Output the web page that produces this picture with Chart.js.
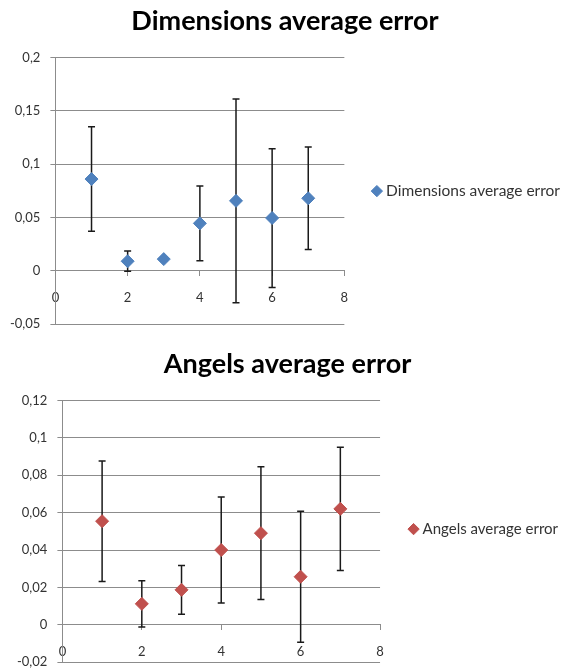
<!DOCTYPE html>
<html>
<head>
<meta charset="utf-8">
<script src="https://cdn.jsdelivr.net/npm/chart.js@4"></script>
<style>
    html, body { margin: 0; padding: 0; background: #fff; overflow: hidden; }
    .box { position: absolute; left: 0; width: 561px; }
    #box1 { top: 0; height: 342px; }
    #box2 { top: 338px; height: 342px; }
</style>
</head>
<body>
<div class="box" id="box1"><canvas id="dimChart"></canvas></div>
<div class="box" id="box2"><canvas id="angChart"></canvas></div>
<script>
// Data
const xValues = [1, 2, 3, 4, 5, 6, 7];
const dimValues = [0.086, 0.009, 0.011, 0.0445, 0.0656, 0.0495, 0.068];
const dimErrors = [0.049, 0.0095, 0.002, 0.035, 0.0955, 0.065, 0.048];
const angValues = [0.0554, 0.0112, 0.0187, 0.040, 0.049, 0.0257, 0.062];
const angErrors = [0.0322, 0.0124, 0.013, 0.0283, 0.0355, 0.035, 0.0329];

const fontFamily = 'Lato, "Open Sans", sans-serif';
const gridColor = '#8c8c8c';

// Draw vertical error bars with caps from the scales
const errorBars = {
    id: 'errorBars',
    beforeDatasetsDraw(chart, args, opts) {
        const ctx = chart.ctx;
        const xs = chart.scales.x, ys = chart.scales.y;
        const errs = opts.errors || [];
        ctx.save();
        ctx.strokeStyle = '#1a1a1a';
        ctx.lineWidth = 1.5;
        chart.data.datasets[0].data.forEach(function(p, i) {
            const px = xs.getPixelForValue(p.x);
            const top = ys.getPixelForValue(p.y + errs[i]);
            const bot = ys.getPixelForValue(p.y - errs[i]);
            ctx.beginPath();
            ctx.moveTo(px, top); ctx.lineTo(px, bot);
            ctx.moveTo(px - 3.5, top); ctx.lineTo(px + 3.5, top);
            ctx.moveTo(px - 3.5, bot); ctx.lineTo(px + 3.5, bot);
            ctx.stroke();
        });
        ctx.restore();
    }
};

function fmt(v) {
    return String(Number(v.toFixed(3))).replace('.', ',');
}

function makeChart(id, title, values, errors, color, yMin, yMax, yStep, pad, titlePad, legendPad, legendSize) {
    return new Chart(document.getElementById(id), {
        type: 'scatter',
        data: {
            datasets: [{
                label: title,
                data: xValues.map((x, i) => ({ x: x, y: values[i] })),
                backgroundColor: color,
                borderColor: color,
                pointStyle: 'rectRot',
                pointRadius: 6.5,
                pointHoverRadius: 6.5
            }]
        },
        options: {
            responsive: true,
            maintainAspectRatio: false,
            animation: false,
            layout: { padding: pad },
            scales: {
                x: {
                    type: 'linear',
                    position: { y: 0 },
                    min: 0,
                    max: 8,
                    ticks: {
                        stepSize: 2,
                        padding: 14,
                        color: '#333',
                        font: { family: fontFamily, size: 13 }
                    },
                    grid: { drawOnChartArea: false, drawTicks: true, tickLength: 5, color: gridColor },
                    border: { display: true, color: gridColor, width: 1 }
                },
                y: {
                    min: yMin,
                    max: yMax,
                    ticks: {
                        stepSize: yStep,
                        padding: 10,
                        color: '#333',
                        font: { family: fontFamily, size: 13 },
                        callback: function(v) { return fmt(v); }
                    },
                    grid: { color: gridColor, tickLength: 5 },
                    border: { display: true, color: gridColor, width: 1 }
                }
            },
            plugins: {
                title: {
                    display: true,
                    text: title,
                    color: '#000',
                    font: { family: fontFamily, size: 27, weight: 'bold' },
                    padding: titlePad
                },
                legend: {
                    position: 'right',
                    maxWidth: 260,
                    // empty title only to push the item down to the middle of the plot
                    title: { display: true, text: ' ', font: { size: 1 }, padding: { top: 18, bottom: 19 } },
                    labels: {
                        usePointStyle: true,
                        pointStyle: 'rectRot',
                        boxWidth: 3,
                        boxHeight: 8,
                        padding: legendPad,
                        color: '#333',
                        font: { family: fontFamily, size: legendSize }
                    }
                },
                tooltip: { enabled: false },
                errorBars: { errors: errors }
            }
        },
        plugins: [errorBars]
    });
}

makeChart('dimChart', 'Dimensions average error', dimValues, dimErrors, '#4f81bd',
    -0.05, 0.2, 0.05, { top: 2, left: 0, right: -9, bottom: 0 }, { top: 3, bottom: 20 }, 31, 15.5);
makeChart('angChart', 'Angels average error', angValues, angErrors, '#c0504d',
    -0.02, 0.12, 0.02, { top: 2, left: 7, right: -7, bottom: 0 }, { top: 8, bottom: 20 }, 32, 15);
</script>
</body>
</html>
